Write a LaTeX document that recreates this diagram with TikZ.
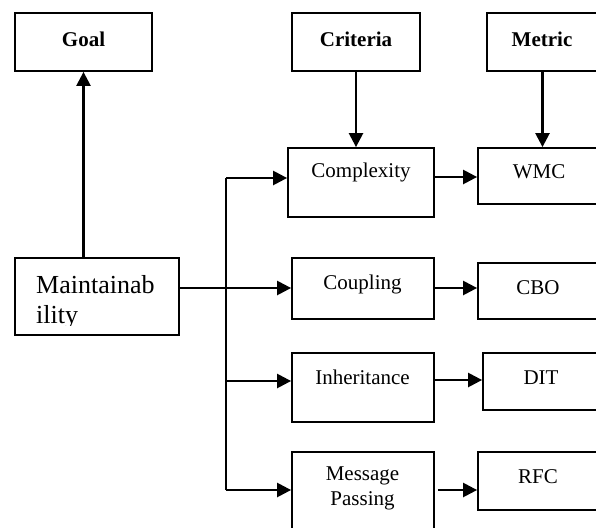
\documentclass[tikz,border=0pt]{standalone}
\usepackage{fontspec}
\setmainfont{Liberation Serif}
\usetikzlibrary{arrows.meta}
\begin{document}
\begin{tikzpicture}[x=1pt,y=-1pt,
  box/.style={draw, line width=1.8pt, inner sep=0pt},
  txt/.style={inner sep=0pt, font=\fontsize{21}{25}\selectfont, align=center},
  btxt/.style={inner sep=0pt, font=\fontsize{21}{25}\selectfont\bfseries},
  arr/.style={line width=2.4pt, -{Triangle[length=14pt,width=14pt]}},
  trunk/.style={line width=2.4pt},
  thinline/.style={line width=1.1pt}]
\useasboundingbox (0,0) rectangle (596,527);
\clip (0,0) rectangle (596,527);
% top row
\node[box, minimum width=137pt, minimum height=58pt] (goal) at (83.5,42) {};
\node[btxt] (goalt) at (83.5,39) {Goal};
\node[box, minimum width=128pt, minimum height=58pt] (crit) at (356,42) {};
\node[btxt] (critt) at (356,39) {Criteria};
\node[box, minimum width=111pt, minimum height=58pt] (metric) at (542.5,42) {};
\node[btxt] (metrict) at (542,39) {Metric};
% criteria
\node[box, minimum width=146pt, minimum height=69pt] (cx) at (361,182.5) {};
\node[txt] (cxt) at (361,172) {Complexity};
\node[box, minimum width=142pt, minimum height=61pt] (cp) at (363,288.5) {};
\node[txt] (cpt) at (362.5,284) {Coupling};
\node[box, minimum width=142pt, minimum height=69pt] (ih) at (363,387.5) {};
\node[txt] (iht) at (362.5,377) {Inheritance};
\node[box, minimum width=142pt, minimum height=108pt] (mp) at (363,506) {};
\node[txt] (mpt) at (362.5,488.5) {Message\\Passing};
% metrics
\node[box, minimum width=122pt, minimum height=56pt] (wmc) at (539,176) {};
\node[txt] (wmct) at (539,172) {WMC};
\node[box, minimum width=122pt, minimum height=56pt] (cbo) at (539,291) {};
\node[txt] (cbot) at (538,288) {CBO};
\node[box, minimum width=117pt, minimum height=57pt] (dit) at (541.5,381.5) {};
\node[txt] (ditt) at (541,378) {DIT};
\node[box, minimum width=122pt, minimum height=58pt] (rfc) at (539,481) {};
\node[txt] (rfct) at (538,477) {RFC};
% maintainability
\node[box, minimum width=164pt, minimum height=77pt] (mt) at (97,296.5) {};
\begin{scope}
\clip (15,258) rectangle (179,325.5);
\node[inner sep=0pt, anchor=north west, align=left, font=\fontsize{26}{30}\selectfont] (mtt) at (36,275) {Maintainab\\ility};
\end{scope}
% connectors
\draw[arr] (mt.north -| goal.south) -- (goal.south);
\draw[arr] (crit.south) -- (crit.south |- cx.north);
\draw[arr] (metric.south) -- (metric.south |- wmc.north);
\coordinate (j1) at (226,178);
\coordinate (j2) at (226,288);
\coordinate (j3) at (226,381);
\coordinate (j4) at (226,490);
\draw[trunk] (j4) -- (j1);
\draw[thinline] (mt.east |- j2) -- (j2);
\draw[arr] (j1) -- (j1 -| cx.west);
\draw[arr] (j2) -- (j2 -| cp.west);
\draw[arr] (j3) -- (j3 -| ih.west);
\draw[arr] (j4) -- (j4 -| mp.west);
\coordinate (r1) at (0,177);
\draw[arr] (cx.east |- r1) -- (wmc.west |- r1);
\draw[arr] (cp.east |- j2) -- (cbo.west |- j2);
\coordinate (r3) at (0,380);
\draw[arr] (ih.east |- r3) -- (dit.west |- r3);
\draw[arr] ([xshift=3pt]mp.east |- j4) -- (rfc.west |- j4);
\end{tikzpicture}
\end{document}
